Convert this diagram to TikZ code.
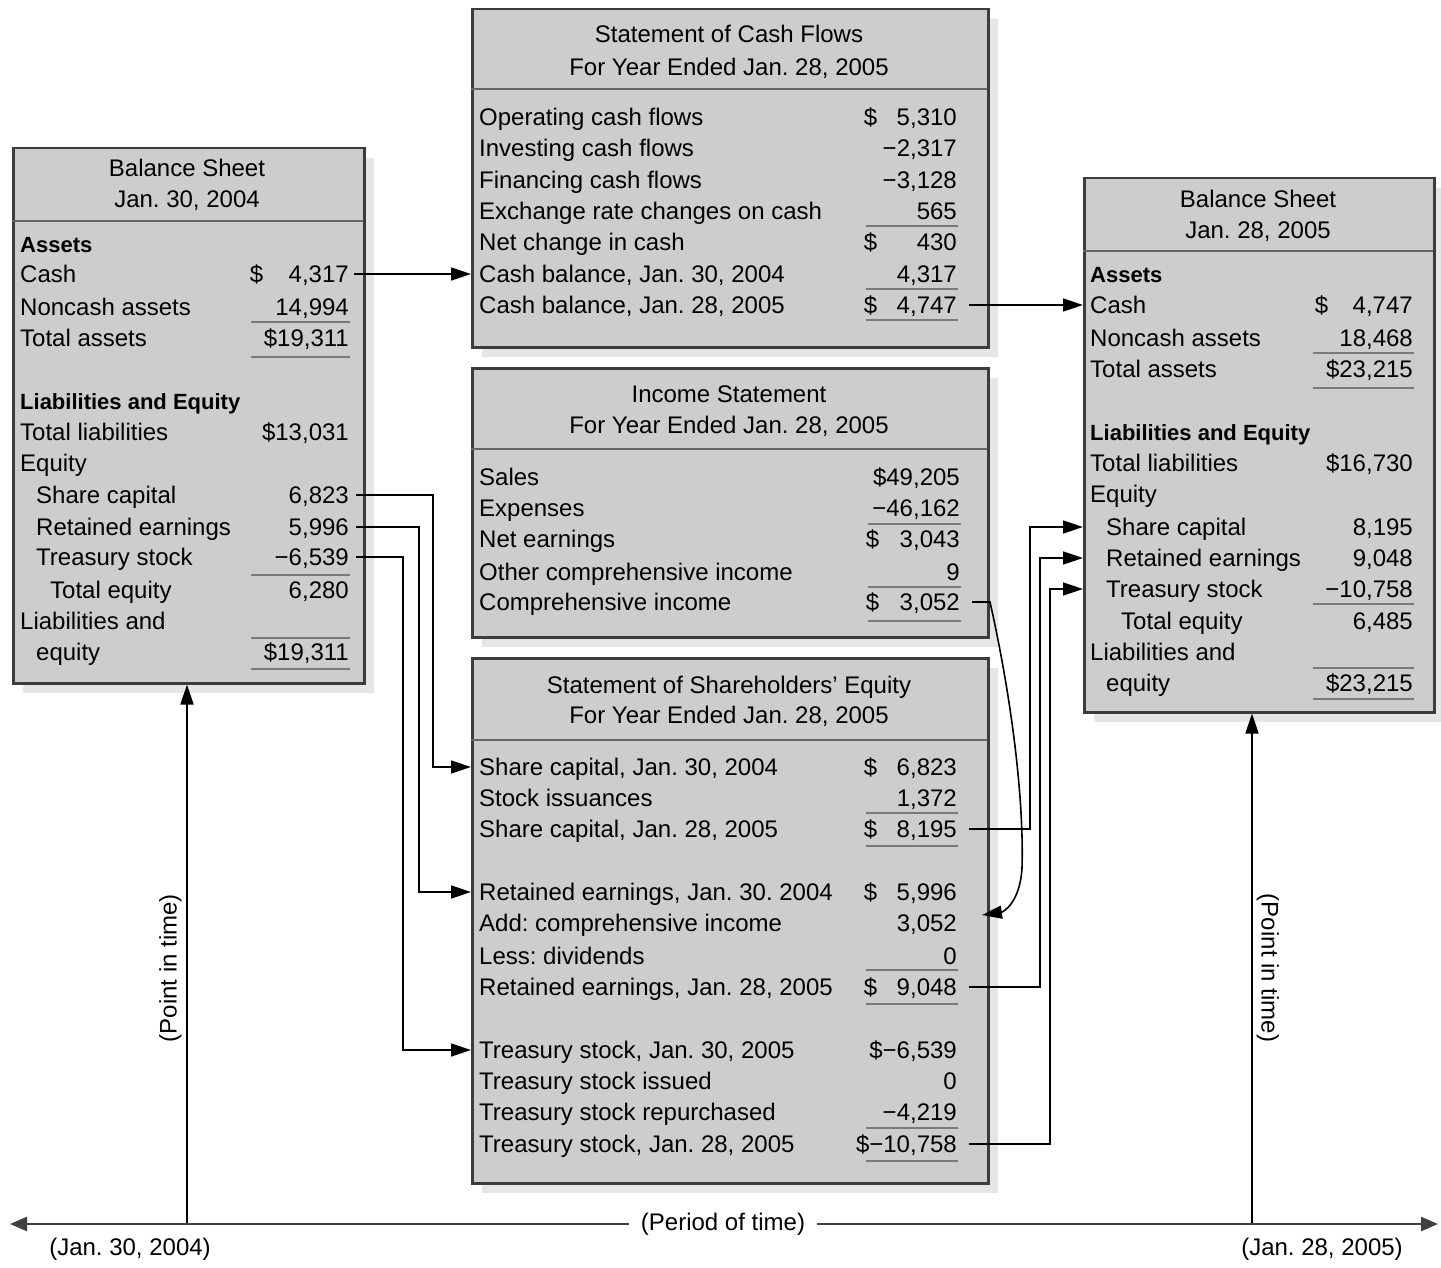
\documentclass[tikz,border=0pt]{standalone}
\usepackage{fontspec}
\setmainfont{Liberation Sans}
\usetikzlibrary{arrows.meta,shadows}

\definecolor{panelfill}{HTML}{CDCDCD}
\definecolor{panelshade}{HTML}{E6E6E6}
\definecolor{panelrule}{HTML}{3C3C3C}
\definecolor{sumrule}{HTML}{7A7A7A}

% one statement line: name, label x, row y, label, amount (right aligned at \vr)
\newcommand\finrow[5]{%
  \node[txt,anchor=west] (#1) at (#2,#3) {#4};
  \node[txt,anchor=east] (#1v) at (\vr,#3) {#5};}
% amount with the dollar sign flush left in the amount column
\newcommand\dollarval[1]{\makebox[\dw]{\$\hfill#1}}

\begin{document}
\frenchspacing
\begin{tikzpicture}[x=1pt,y=-1pt,
  txt/.style={inner sep=0pt,text height=17pt,text depth=0pt,font=\fontsize{24}{28}\selectfont},
  hd/.style={txt,anchor=west,font=\fontsize{22}{26}\selectfont\bfseries},
  ttl/.style={txt,anchor=center},
  panel/.style={draw=panelrule,line width=2.5pt,fill=panelfill,anchor=north west,inner sep=0pt,
    drop shadow={shadow xshift=10pt,shadow yshift=-10pt,fill=panelshade,opacity=1}},
  sep/.style={draw=black!60,line width=2pt},
  sumline/.style={draw=sumrule,line width=2pt},
  conn/.style={draw=black,line width=1.6pt,-{Triangle[length=20pt,width=13pt]}},
  timeline/.style={draw=black!75,line width=2.5pt,
    {Triangle[length=17pt,width=14pt]}-{Triangle[length=17pt,width=14pt]}},
]
\useasboundingbox (0,0) rectangle (1441,1268);

% ---------- panels ----------
\node[panel,minimum width=351pt,minimum height=535pt] (bsA) at (12,147) {};
\node[panel,minimum width=516pt,minimum height=338pt] (cf) at (471,8) {};
\node[panel,minimum width=516pt,minimum height=269pt] (is) at (471,367) {};
\node[panel,minimum width=516pt,minimum height=525pt] (se) at (471,657) {};
\node[panel,minimum width=350pt,minimum height=534pt] (bsB) at (1083,177) {};

% ---------- opening balance sheet ----------
\node[ttl] (bsAt1) at (187,168) {Balance Sheet};
\node[ttl] (bsAt2) at (187,199) {Jan. 30, 2004};
\draw[sep] (12,221) -- (363,221);
\def\vr{349}\def\dw{99pt}
\node[hd] (aAssets) at (20,244) {Assets};
\finrow{aCash}{20}{274}{Cash}{\dollarval{4,317}}
\finrow{aNon}{20}{307}{Noncash assets}{14,994}
\finrow{aTot}{20}{338}{Total assets}{\$19,311}
\node[hd] (aLEh) at (20,401) {Liabilities and Equity};
\finrow{aTL}{20}{432}{Total liabilities}{\$13,031}
\node[txt,anchor=west] (aEq) at (20,463) {Equity};
\finrow{aSC}{36}{495}{Share capital}{6,823}
\finrow{aRE}{36}{527}{Retained earnings}{5,996}
\finrow{aTS}{36}{557}{Treasury stock}{−6,539}
\finrow{aTE}{50}{590}{Total equity}{6,280}
\node[txt,anchor=west] (aLE1) at (20,621) {Liabilities and};
\finrow{aLE}{36}{652}{equity}{\$19,311}
\foreach \yy in {322,357,575,638,669} \draw[sumline] (251,\yy) -- (350,\yy);

% ---------- cash flows ----------
\node[ttl] (cft1) at (729,34) {Statement of Cash Flows};
\node[ttl] (cft2) at (729,67) {For Year Ended Jan. 28, 2005};
\draw[sep] (471,89) -- (987,89);
\def\vr{957}\def\dw{93pt}
\finrow{cOp}{479}{117}{Operating cash flows}{\dollarval{5,310}}
\finrow{cInv}{479}{148}{Investing cash flows}{−2,317}
\finrow{cFin}{479}{180}{Financing cash flows}{−3,128}
\finrow{cEx}{479}{211}{Exchange rate changes on cash}{565}
\finrow{cNet}{479}{242}{Net change in cash}{\dollarval{430}}
\finrow{cB04}{479}{274}{Cash balance, Jan. 30, 2004}{4,317}
\finrow{cB05}{479}{305}{Cash balance, Jan. 28, 2005}{\dollarval{4,747}}
\foreach \yy in {226,289,320} \draw[sumline] (866,\yy) -- (958,\yy);

% ---------- income statement ----------
\node[ttl] (ist1) at (729,394) {Income Statement};
\node[ttl] (ist2) at (729,425) {For Year Ended Jan. 28, 2005};
\draw[sep] (471,449) -- (987,449);
\def\vr{960}\def\dw{94pt}
\finrow{iSal}{479}{477}{Sales}{\$49,205}
\finrow{iExp}{479}{508}{Expenses}{−46,162}
\finrow{iNet}{479}{539}{Net earnings}{\dollarval{3,043}}
\finrow{iOci}{479}{572}{Other comprehensive income}{9}
\finrow{iCi}{479}{602}{Comprehensive income}{\dollarval{3,052}}
\foreach \yy in {524,587,621} \draw[sumline] (868,\yy) -- (961,\yy);

% ---------- shareholders' equity ----------
\node[ttl] (set1) at (729,685) {Statement of Shareholders' Equity};
\node[ttl] (set2) at (729,715) {For Year Ended Jan. 28, 2005};
\draw[sep] (471,740) -- (987,740);
\def\vr{957}\def\dw{93pt}
\finrow{sSC0}{479}{767}{Share capital, Jan. 30, 2004}{\dollarval{6,823}}
\finrow{sIss}{479}{798}{Stock issuances}{1,372}
\finrow{sSC1}{479}{829}{Share capital, Jan. 28, 2005}{\dollarval{8,195}}
\finrow{sRE0}{479}{892}{Retained earnings, Jan. 30. 2004}{\dollarval{5,996}}
\finrow{sAdd}{479}{923}{Add: comprehensive income}{3,052}
\finrow{sDiv}{479}{956}{Less: dividends}{0}
\finrow{sRE1}{479}{987}{Retained earnings, Jan. 28, 2005}{\dollarval{9,048}}
\finrow{sTS0}{479}{1050}{Treasury stock, Jan. 30, 2005}{\$−6,539}
\finrow{sTSi}{479}{1081}{Treasury stock issued}{0}
\finrow{sTSr}{479}{1112}{Treasury stock repurchased}{−4,219}
\finrow{sTS1}{479}{1144}{Treasury stock, Jan. 28, 2005}{\$−10,758}
\foreach \yy in {813,846,970,1004,1128,1161} \draw[sumline] (866,\yy) -- (958,\yy);

% ---------- closing balance sheet ----------
\node[ttl] (bsBt1) at (1258,199) {Balance Sheet};
\node[ttl] (bsBt2) at (1258,230) {Jan. 28, 2005};
\draw[sep] (1083,251) -- (1433,251);
\def\vr{1413}\def\dw{98pt}
\node[hd] (bAssets) at (1090,274) {Assets};
\finrow{bCash}{1090}{305}{Cash}{\dollarval{4,747}}
\finrow{bNon}{1090}{338}{Noncash assets}{18,468}
\finrow{bTot}{1090}{369}{Total assets}{\$23,215}
\node[hd] (bLEh) at (1090,432) {Liabilities and Equity};
\finrow{bTL}{1090}{463}{Total liabilities}{\$16,730}
\node[txt,anchor=west] (bEq) at (1090,494) {Equity};
\finrow{bSC}{1106}{527}{Share capital}{8,195}
\finrow{bRE}{1106}{558}{Retained earnings}{9,048}
\finrow{bTS}{1106}{589}{Treasury stock}{−10,758}
\finrow{bTE}{1121}{621}{Total equity}{6,485}
\node[txt,anchor=west] (bLE1) at (1090,652) {Liabilities and};
\finrow{bLE}{1106}{683}{equity}{\$23,215}
\foreach \yy in {353,388,604,668,699} \draw[sumline] (1313,\yy) -- (1414,\yy);

% ---------- links between statements ----------
\draw[conn] ([xshift=5pt]aCashv.east) -- (cf.west |- cB04.west);
\draw[conn] ([xshift=12pt]cB05v.east) -- (bsB.west |- bCash.west);
\draw[conn] ([xshift=7pt]aSCv.east) -| (433,0 |- sSC0.west) -- (se.west |- sSC0.west);
\draw[conn] ([xshift=7pt]aREv.east) -| (419,0 |- sRE0.west) -- (se.west |- sRE0.west);
\draw[conn] ([xshift=7pt]aTSv.east) -| (403,0 |- sTS0.west) -- (se.west |- sTS0.west);
\draw[conn] ([xshift=12pt]sSC1v.east) -| (1030,0 |- bSC.west) -- (bsB.west |- bSC.west);
\draw[conn] ([xshift=12pt]sRE1v.east) -| (1040,0 |- bRE.west) -- (bsB.west |- bRE.west);
\draw[conn] ([xshift=12pt]sTS1v.east) -| (1050,0 |- bTS.west) -- (bsB.west |- bTS.west);
\draw[conn] ([xshift=12pt]iCiv.east) -- ++(18,0)
  .. controls (1012,700) and (1024,800) .. (1022,868)
  .. controls (1020,903) and (1003,912) .. ([xshift=25pt,yshift=8pt]sAddv.east);

% ---------- time axis ----------
\coordinate (tA) at (187,1224);
\coordinate (tB) at (1252,1224);
\coordinate (tL) at (10,1224);
\coordinate (tR) at (1438,1224);
\draw[conn] (tA) -- (tA |- bsA.south);
\draw[conn] (tB) -- (tB |- bsB.south);
\node[txt,rotate=90] (ptA) at (168,968) {(Point in time)};
\node[txt,rotate=-90] (ptB) at (1270,968) {(Point in time)};
\draw[timeline] (tL) -- (tR);
\node[txt,fill=white,inner xsep=12pt,inner ysep=5pt] (period) at (723,1222) {(Period of time)};
\node[txt] (dA) at (130,1247) {(Jan. 30, 2004)};
\node[txt] (dB) at (1322,1247) {(Jan. 28, 2005)};
\end{tikzpicture}
\end{document}
